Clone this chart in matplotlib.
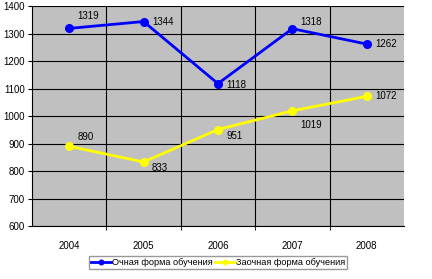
import matplotlib.pyplot as plt

years = ["2004", "2005", "2006", "2007", "2008"]
full_time = [1319, 1344, 1118, 1318, 1262]
part_time = [890, 833, 951, 1019, 1072]
y_ticks = [600, 700, 800, 900, 1000, 1100, 1200, 1300, 1400]

# label offsets in points, per point
full_offsets = [(6, 9), (6, 0), (6, -1), (6, 5), (6, 0)]
part_offsets = [(6, 7), (6, -4), (6, -4.5), (6, -10), (6, 0)]

plt.rcParams["font.family"] = ["Liberation Sans", "DejaVu Sans"]

fig = plt.figure(figsize=(4.32, 2.79), dpi=100)
ax = fig.add_axes([0.074, 0.19, 0.861, 0.788])
ax.set_facecolor("#c0c0c0")

x = list(range(len(years)))
ax.plot(x, full_time, color="#0000ff", lw=2, marker="o", ms=5.5,
        label="Очная форма обучения", zorder=3)
ax.plot(x, part_time, color="#ffff00", lw=2, marker="o", ms=5.5,
        label="Заочная форма обучения", zorder=3)

for xi, v, off in zip(x, full_time, full_offsets):
    ax.annotate(str(v), (xi, v), xytext=off, textcoords="offset points",
                fontsize=7, va="center", ha="left")
for xi, v, off in zip(x, part_time, part_offsets):
    ax.annotate(str(v), (xi, v), xytext=off, textcoords="offset points",
                fontsize=7, va="center", ha="left")

ax.set_xlim(-0.5, len(years) - 0.5)
ax.set_ylim(600, 1400)
ax.set_yticks(y_ticks)
ax.set_xticks(x)
ax.set_xticklabels(years)
ax.set_xticks([i + 0.5 for i in range(len(years) - 1)], minor=True)
ax.tick_params(axis="x", which="major", length=0, pad=11, labelsize=7)
ax.tick_params(axis="x", which="minor", length=3, direction="out")
ax.tick_params(axis="y", length=3, labelsize=7, pad=2)
ax.grid(axis="y", color="black", lw=0.8)
ax.grid(axis="x", which="minor", color="black", lw=0.8)
ax.set_axisbelow(True)
for side in ["top", "right"]:
    ax.spines[side].set_visible(False)
ax.spines["left"].set_color("black")
ax.spines["bottom"].set_color("black")

ax.legend(loc="upper center", bbox_to_anchor=(0.5, -0.115), ncol=2,
          fontsize=6.6, frameon=True, fancybox=False, edgecolor="#808080",
          handlelength=2.2, columnspacing=0.2, borderpad=0.25,
          handletextpad=0.1, markerscale=0.6)

fig.savefig("out.png", dpi=100)
